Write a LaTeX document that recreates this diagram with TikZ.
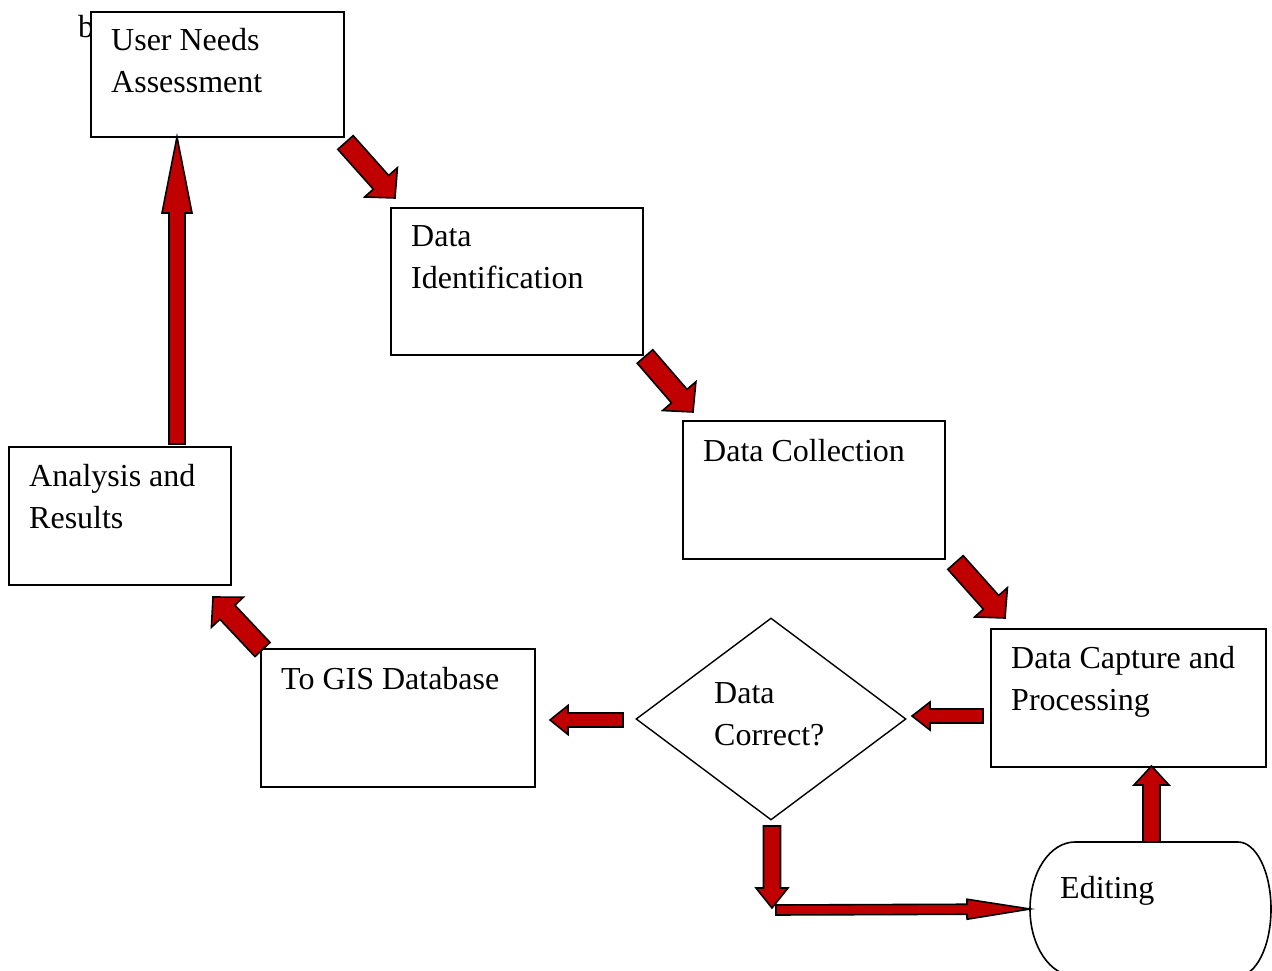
\documentclass[tikz,border=0pt]{standalone}
\usepackage{fontspec}
\setmainfont{Liberation Serif}
\usetikzlibrary{calc,shapes.geometric}
\definecolor{arrred}{RGB}{192,0,0}
\newcommand\blkarrow[5]{%
  \path (#1) coordinate (ba) (#2) coordinate (bb);
  \path ($(bb)!#5!(ba)$) coordinate (bh);
  \filldraw[blk] ($(ba)!#3!90:(bb)$) -- ($(bh)!#3!90:(bb)$) -- ($(bh)!#4!90:(bb)$) -- (bb)
     -- ($(bh)!#4!-90:(bb)$) -- ($(bh)!#3!-90:(bb)$) -- ($(ba)!#3!-90:(bb)$) -- cycle;
}
\begin{document}
\begin{tikzpicture}[x=1pt,y=-1pt,
  box/.style={draw, line width=1.6pt, fill=white, rectangle, inner sep=0pt, anchor=north west},
  txt/.style={anchor=north west, inner sep=0pt, align=left, font=\fontsize{32}{42}\selectfont},
  blk/.style={fill=arrred, draw=black, line width=1.6pt, line join=miter}]
\clip (0,0) rectangle (1272,971);
\fill[white] (0,0) rectangle (1272,971);

% stray letter
\node[anchor=base west, inner sep=0pt, font=\fontsize{32}{42}\selectfont] (stray) at (78,38) {b};

% boxes
\node[box, minimum width=253pt, minimum height=125pt] (una) at (90,11) {};
\node[txt] (una-t) at (111,20.6) {\strut User Needs\\Assessment};

\node[box, minimum width=252pt, minimum height=147pt] (did) at (390,207) {};
\node[txt] (did-t) at (411,216.6) {\strut Data\\Identification};

\node[box, minimum width=262pt, minimum height=138pt] (dco) at (682,420) {};
\node[txt] (dco-t) at (703,431.6) {\strut Data Collection};

\node[box, minimum width=275pt, minimum height=138pt] (dcp) at (990,628) {};
\node[txt] (dcp-t) at (1011,638.6) {\strut Data Capture and\\Processing};

\node[diamond, draw, line width=1.4pt, fill=white, minimum width=270pt, minimum height=202pt, inner sep=0pt] (dia) at (771,719) {};
\node[txt] (dia-t) at (714,673.6) {\strut Data\\Correct?};

\node[box, minimum width=274pt, minimum height=138pt] (gis) at (260,648) {};
\node[txt] (gis-t) at (281,659.6) {\strut To GIS Database};

\node[box, minimum width=222pt, minimum height=138pt] (ana) at (8,446) {};
\node[txt] (ana-t) at (29,456.6) {\strut Analysis and\\Results};

% editing terminator
\draw[line width=1.6pt, fill=white] (1075,842) -- (1238,842)
   arc[start angle=90, end angle=-90, x radius=33pt, y radius=67pt] -- (1075,976)
   arc[start angle=270, end angle=90, x radius=45pt, y radius=67pt] -- cycle;
\node[anchor=base west, inner sep=0pt, font=\fontsize{32}{42}\selectfont] (edit) at (1060,898) {Editing};

% arrow end points
\coordinate (a1s) at (345.5,142.5); \coordinate (a1e) at (395,198);
\coordinate (a2s) at (645,356.5);   \coordinate (a2e) at (693,412);
\coordinate (a3s) at (955.5,562.5); \coordinate (a3e) at (1005,618);
\coordinate (a4s) at (983,716);     \coordinate (a4e) at (912,716);
\coordinate (a5s) at (623,720);     \coordinate (a5e) at (550,720);
\coordinate (a6s) at (262.5,649.5); \coordinate (a6e) at (213,597);
\coordinate (a7s) at (177,444);     \coordinate (a7e) at (177,137);
\coordinate (a8s) at (772,826);     \coordinate (a8e) at (772,908);
\coordinate (a9s) at (776,910);     \coordinate (a9e) at (1030,909);
\coordinate (a10s) at (1151.5,842); \coordinate (a10e) at (1151.5,766);

\blkarrow{a1s}{a1e}{10.3pt}{22pt}{21pt}
\blkarrow{a2s}{a2e}{10.3pt}{22pt}{21pt}
\blkarrow{a3s}{a3e}{10.3pt}{22pt}{21pt}
\blkarrow{a4s}{a4e}{7pt}{14pt}{18pt}
\blkarrow{a5s}{a5e}{7pt}{14.5pt}{18pt}
\blkarrow{a6s}{a6e}{10.3pt}{22pt}{21pt}
\blkarrow{a7s}{a7e}{8pt}{15pt}{76pt}
\blkarrow{a8s}{a8e}{8.5pt}{16pt}{20pt}
\blkarrow{a9s}{a9e}{5pt}{10pt}{63pt}
\blkarrow{a10s}{a10e}{8.5pt}{17.5pt}{19pt}
\end{tikzpicture}
\end{document}
